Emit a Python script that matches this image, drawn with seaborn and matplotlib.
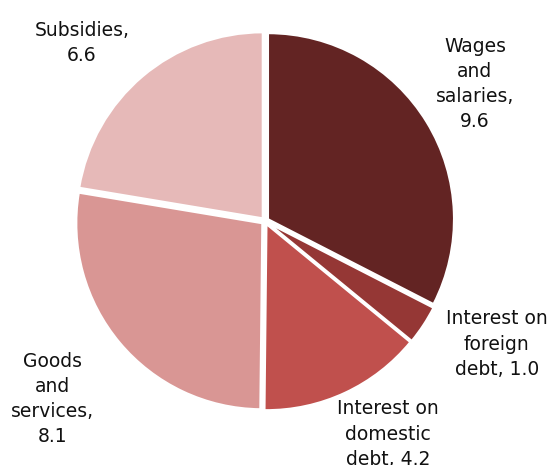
import matplotlib
matplotlib.use("Agg")
import matplotlib.pyplot as plt
import seaborn as sns

# Government spending components
categories = ["Wages\nand\nsalaries,", "Interest on\nforeign\ndebt,", "Interest on\ndomestic\ndebt,",
              "Goods\nand\nservices,", "Subsidies,"]
values = [9.6, 1.0, 4.2, 8.1, 6.6]
palette = ["#632423", "#953735", "#c0504d", "#d99694", "#e6b9b8"]

sns.set_theme(style="white")
plt.rcParams["font.family"] = ["DejaVu Sans"]

W, H = 556, 465
fig = plt.figure(figsize=(W / 100, H / 100), dpi=100)
ax = fig.add_axes([0, 0, 1, 1])

cx, cy, r = 265, 244, 186
gap = 3.5  # explode offset in pixels
ax.pie(values, colors=sns.color_palette(palette), startangle=90, counterclock=False,
       center=(cx, cy), radius=r, explode=[gap] * len(values),
       wedgeprops=dict(edgecolor="white", linewidth=1.5), frame=True)
ax.set_xlim(0, W)
ax.set_ylim(0, H)
ax.set_aspect("equal")
ax.axis("off")

# label anchors (centre of each text block, in pixels from bottom-left)
label_xy = [(475, 381), (497, 121), (388, 31), (53, 66), (82, 422)]
for cat, v, (x, y) in zip(categories, values, label_xy):
    text = f"{cat} {v:.1f}" if cat.endswith("debt,") else f"{cat}\n{v:.1f}"
    ax.text(x, y, text, ha="center", va="center", fontsize=13.5,
            color="#111111", linespacing=1.42)

fig.savefig("out.png", dpi=100)
